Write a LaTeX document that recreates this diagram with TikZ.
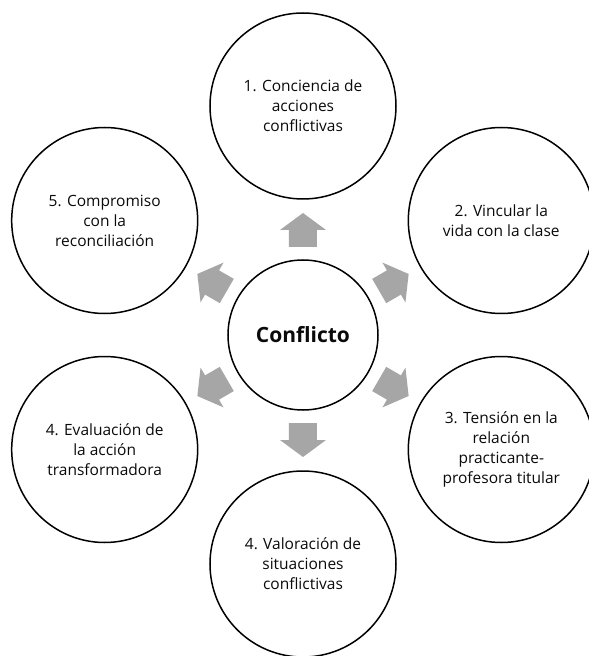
\documentclass[tikz,border=0pt]{standalone}
\usepackage{fontspec}
\setmainfont{Open Sans}
\usepackage{tikz}
\usetikzlibrary{positioning, calc}
\definecolor{cfArrow}{RGB}{166, 166, 166}
\definecolor{cfLine}{RGB}{0, 0, 0}
\definecolor{cfText}{RGB}{10, 10, 10}
\tikzset{
    base/.style={
        font=\fontsize{15.5}{20}\selectfont,
        align=center,
        text=cfText
    },
    stage/.style={
        base,
        circle,
        draw=cfLine,
        line width=1.5pt,
        fill=white,
        inner sep=0pt,
        minimum size=186pt
    },
    core/.style={
        base,
        circle,
        draw=cfLine,
        line width=1.5pt,
        fill=white,
        inner sep=0pt,
        minimum size=150pt,
        font=\fontsize{21}{24}\selectfont\bfseries
    },
    blockarrow/.style={
        fill=cfArrow
    }
}

\begin{document}
\begin{tikzpicture}[x=1pt, y=1pt]
  \useasboundingbox (-303,-321) rectangle (286,335);

  % Centre
  \node[core] (conflicto) at (0,0) {Conflicto};

  % Stages round the centre
  \node[stage] (s1) at (90:229) {1. Conciencia de\\acciones\\conflictivas};
  \node[stage] (s2) at (30:229) {2. Vincular la\\vida con la clase};
  \node[stage] (s3) at (-30:229) {3. Tensión en la\\relación\\practicante-\\profesora titular};
  \node[stage] (s4) at (-90:229) {4. Valoración de\\situaciones\\conflictivas};
  \node[stage] (s4b) at (-150:229) {4. Evaluación de\\la acción\\transformadora};
  \node[stage] (s5) at (150:229) {5. Compromiso\\con la\\reconciliación};

  % Block arrows
  \foreach \a in {90,30,-30,-90,-150,150}
    \fill[blockarrow, rotate=\a] (88,-14) -- (105,-14) -- (105,-23) -- (122,0)
      -- (105,23) -- (105,14) -- (88,14) -- cycle;
\end{tikzpicture}
\end{document}
